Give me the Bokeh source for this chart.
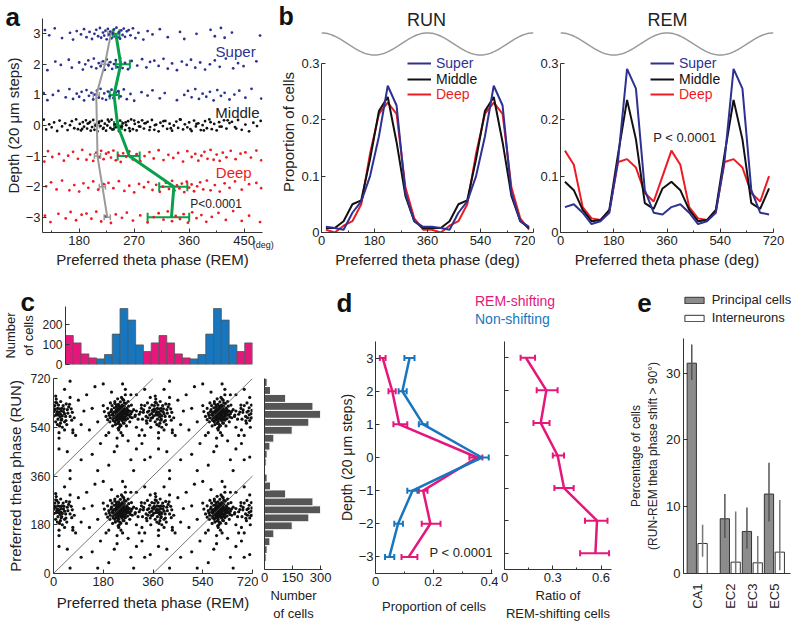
import numpy as np
from bokeh.plotting import figure
from bokeh.layouts import row, column
from bokeh.models import (Range1d, Label, Legend, LegendItem, Whisker, TeeHead,
                          ColumnDataSource, FixedTicker, Slope)
from bokeh.embed import file_html
from bokeh.resources import INLINE

FONT = "Liberation Sans"
AX = "#333333"
BLUE = "#2e3192"
RED = "#ed1c24"
BLACK = "#111111"
GREEN = "#0aa04b"
GRAYL = "#9a9a9a"
MAG = "#e5177b"
CYAN = "#1776bd"
BARGRAY = "#8c8c8c"

# ---------------- Panel a data ----------------
depths = [3, 2, 1, 0, -1, -2, -3]
depth_labels = ["3", "2", "1", "0", "−1", "−2", "−3"]
run_mean = [232, 222, 208, 209, 210, 218, 226]
run_lo = [227, 216, 203, 205, 205, 213, 221]
run_hi = [237, 228, 213, 213, 215, 223, 231]
rem_mean = [240, 248, 237, 243, 262, 335, 331]
rem_lo = [235, 240, 230, 237, 243, 311, 292]
rem_hi = [246, 263, 245, 250, 279, 357, 360]

a_p3 = [124, 131, 140, 152, 165, 170, 176, 183, 188, 192, 197, 201, 205, 208, 211, 214, 216, 219,
        221, 223, 225, 227, 229, 231, 233, 235, 237, 239, 241, 243, 245, 247, 249, 251, 253, 255,
        258, 261, 264, 268, 272, 277, 285, 292, 300, 312, 325, 345, 352, 372, 395, 402, 412, 418,
        430, 476]
a_p2 = [128, 141, 150, 163, 168, 180, 186, 190, 195, 200, 204, 208, 212, 215, 219, 222, 225, 228,
        231, 234, 237, 240, 243, 247, 251, 255, 260, 266, 275, 283, 290, 296, 303, 310, 318, 325,
        332, 340, 348, 356, 363, 370, 378, 386, 394, 402, 410, 420, 432, 440, 449, 470]
a_p1 = [122, 128, 137, 146, 158, 164, 170, 176, 180, 184, 188, 192, 196, 200, 203, 206, 209, 212,
        215, 218, 221, 224, 227, 230, 233, 236, 240, 244, 248, 253, 258, 264, 270, 282, 292, 300,
        312, 320, 340, 352, 358, 364, 370, 376, 382, 388, 394, 400, 406, 412, 418, 426, 434, 442,
        452, 462, 478]
a_0 = [122, 126, 131, 135, 139, 144, 148, 152, 157, 161, 165, 168, 172, 175, 178, 181, 183, 186,
       188, 191, 193, 196, 198, 201, 203, 205, 208, 210, 212, 215, 217, 219, 222, 224, 226, 229,
       231, 233, 236, 238, 240, 243, 245, 247, 250, 252, 255, 257, 260, 262, 265, 268, 271, 274,
       277, 280, 283, 286, 289, 292, 296, 299, 303, 306, 310, 313, 317, 321, 324, 328, 332, 335,
       339, 342, 346, 350, 353, 357, 360, 364, 368, 371, 375, 379, 382, 386, 389, 393, 397, 401,
       405, 409, 413, 417, 421, 426, 430, 435, 440, 446, 452, 458, 465, 471, 477, 185, 194, 199,
       207, 213, 220, 227, 234, 241, 248, 256, 263, 270, 278, 287, 295, 304, 318, 330, 345, 362,
       372, 384, 395, 410, 423, 437]
a_m1 = [123, 129, 136, 147, 155, 162, 170, 178, 185, 192, 198, 203, 208, 212, 216, 220, 224, 228,
        232, 236, 240, 244, 248, 252, 257, 262, 268, 274, 280, 287, 295, 302, 310, 318, 326, 334,
        342, 350, 357, 364, 370, 375, 380, 385, 390, 395, 400, 405, 410, 415, 421, 428, 436, 444,
        452, 461, 470, 478]
a_m2 = [126, 134, 143, 152, 164, 172, 180, 187, 195, 203, 211, 220, 228, 236, 245, 254, 262, 270,
        278, 286, 293, 300, 306, 312, 317, 322, 327, 332, 336, 340, 344, 348, 352, 356, 360, 364,
        368, 373, 378, 383, 389, 395, 402, 410, 418, 426, 435, 446, 458, 470, 478]
a_m3 = [124, 133, 146, 158, 166, 175, 184, 192, 200, 208, 216, 224, 232, 240, 250, 258, 268, 280,
        292, 302, 310, 318, 325, 332, 338, 345, 351, 358, 365, 372, 380, 388, 397, 408, 420, 432,
        446, 458, 476]
a_jitter = [0.12, -0.05, 0.18, -0.14, 0.03, -0.19, 0.09, -0.02, 0.15, -0.11, 0.06, -0.17, 0.0,
            0.13, -0.08, 0.19, -0.13, 0.04, -0.06, 0.10, -0.18, 0.16, -0.03, 0.07, -0.15, 0.01,
            0.14, -0.09, 0.20, -0.12, 0.05, -0.16, 0.11, -0.04, 0.17, -0.10, 0.08]

# ---------------- Panel b data ----------------
phase_bins = [15, 45, 75, 105, 135, 165, 195, 225, 255, 285, 315, 345,
              375, 405, 435, 465, 495, 525, 555, 585, 615, 645, 675, 705]
run_super = [0.010, 0.008, 0.005, 0.035, 0.055, 0.100, 0.170, 0.260, 0.225, 0.070, 0.020, 0.010]
run_middle = [0.008, 0.008, 0.020, 0.050, 0.057, 0.130, 0.215, 0.240, 0.160, 0.065, 0.020, 0.008]
run_deep = [0.005, 0.000, 0.012, 0.020, 0.050, 0.140, 0.210, 0.230, 0.210, 0.080, 0.025, 0.005]
rem_super = [0.045, 0.050, 0.035, 0.015, 0.020, 0.035, 0.130, 0.290, 0.255, 0.075, 0.035, 0.032]
rem_middle = [0.090, 0.075, 0.040, 0.020, 0.022, 0.040, 0.140, 0.235, 0.165, 0.052, 0.042, 0.078]
rem_deep = [0.145, 0.120, 0.045, 0.025, 0.022, 0.038, 0.125, 0.130, 0.115, 0.070, 0.055, 0.100]

# ---------------- Panel c data ----------------
top_counts = [145, 108, 53, 33, 28, 50, 152, 280, 222, 98, 65, 108]
top_group = ["REM-shifting", "REM-shifting", "REM-shifting", "REM-shifting",
             "Non-shifting", "Non-shifting", "Non-shifting", "Non-shifting",
             "Non-shifting", "Non-shifting", "REM-shifting", "REM-shifting"]
side_counts = [5, 9, 14, 29, 50, 148, 237, 300, 259, 113, 32, 14]
c_rem = [240, 232, 250, 225, 258, 245, 220, 262, 236, 248, 215, 270, 228, 255, 242, 210, 265, 238,
         222, 252, 230, 246, 260, 218, 235, 275, 205, 248, 226, 256, 240, 212, 268, 234, 244, 200,
         280, 230, 262, 222, 250, 238, 285, 196, 254, 216, 272, 242, 228, 258, 190, 290, 236, 246,
         206, 276, 224, 264, 232, 252, 184, 296, 244, 214, 270, 204, 282, 236, 248, 226, 230, 260,
         200, 280, 250,
         238, 244, 233, 250, 227, 241, 256, 236, 248, 230, 262, 218, 246, 234, 254, 224, 240, 258,
         212, 268, 236, 244, 228, 252, 220, 264, 242, 208, 274, 232, 248, 226, 238, 260, 214, 270,
         244, 222, 256, 202, 284, 234, 250, 196, 278,
         10, 20, 358, 30, 345, 15, 40, 335, 25, 5, 350, 50, 325, 18, 35, 355, 8, 60, 318, 28, 342,
         12, 45, 330, 2, 22, 338, 55, 310, 32, 48, 348, 16, 68, 300, 26, 352, 38, 6, 322, 75, 295,
         58, 340, 14, 20, 350, 40, 330, 8, 60, 300, 70,
         12, 24, 4, 36, 348, 18, 44, 340, 28, 8, 354, 52, 326, 22, 32, 358, 14, 64, 314, 26, 336,
         46, 2, 318, 40, 356, 30, 66, 306, 10,
         100, 150, 300, 60, 200, 330, 120, 80, 280, 170, 20, 250, 310, 90, 130, 210, 40, 350, 180,
         110, 270, 160, 300, 70, 230, 320, 140, 190, 50, 260,
         140, 290, 20, 330, 180, 60, 220, 100, 320, 160]
c_run = [225, 218, 232, 240, 210, 250, 215, 238, 200, 262, 230, 225, 255, 195, 212, 245, 250, 238,
         200, 220, 228, 244, 228, 222, 265, 240, 215, 205, 235, 258, 190, 260, 212, 248, 230, 232,
         230, 210, 268, 275, 240, 180, 215, 250, 280, 205, 258, 220, 245, 242, 220, 245, 170, 290,
         270, 200, 190, 185, 285, 210, 238, 225, 160, 185, 275, 200, 262, 232, 252, 222, 140, 300,
         160, 300, 150,
         228, 236, 222, 226, 230, 244, 234, 214, 218, 238, 222, 236, 256, 206, 248, 218, 252, 216,
         226, 244, 242, 210, 262, 196, 252, 232, 274, 238, 226, 194, 234, 206, 258, 206, 212, 236,
         186, 268, 270, 224, 238, 176, 284, 208, 218,
         225, 235, 215, 210, 240, 250, 230, 220, 195, 260, 205, 245, 235, 225, 260, 230, 200, 220,
         250, 240, 215, 270, 205, 260, 238, 185, 195, 255, 228, 222, 190, 252, 210, 235, 240, 275,
         180, 248, 245, 210, 215, 220, 265, 270, 238, 160, 290, 170, 150, 295, 290, 180, 160,
         232, 218, 248, 238, 226, 262, 220, 236, 206, 272, 214, 232, 244, 248, 180, 242, 190, 248,
         236, 228, 204, 266, 222, 262, 200, 262, 250, 206, 210, 284,
         60, 330, 100, 20, 40, 320, 300, 150, 60, 120, 100, 340, 150, 280, 170, 310, 320, 70, 260,
         240, 130, 200, 300, 170, 110, 170, 250, 150, 90, 320,
         80, 20, 140, 60, 340, 350, 90, 190, 120, 20]

# ---------------- Panel d data ----------------
shift_prop = [0.025, 0.058, 0.082, 0.352, 0.165, 0.190, 0.115]
shift_lo = [0.015, 0.045, 0.062, 0.325, 0.150, 0.160, 0.090]
shift_hi = [0.035, 0.070, 0.110, 0.370, 0.180, 0.225, 0.145]
non_prop = [0.118, 0.093, 0.165, 0.368, 0.128, 0.078, 0.048]
non_lo = [0.100, 0.080, 0.150, 0.355, 0.110, 0.065, 0.033]
non_hi = [0.135, 0.108, 0.180, 0.392, 0.145, 0.095, 0.065]
ratio = [0.133, 0.260, 0.225, 0.330, 0.370, 0.575, 0.565]
ratio_lo = [0.100, 0.200, 0.180, 0.300, 0.310, 0.500, 0.470]
ratio_hi = [0.190, 0.330, 0.280, 0.370, 0.430, 0.640, 0.650]

# ---------------- Panel e data ----------------
regions = ["CA1", "EC2", "EC3", "EC5"]
principal = [31.5, 8.2, 6.3, 11.9]
principal_lo = [29.0, 5.3, 3.7, 7.8]
principal_hi = [34.3, 11.9, 9.9, 16.6]
intern = [4.5, 1.7, 1.6, 3.2]
intern_lo = [2.5, 0.0, 0.0, 0.5]
intern_hi = [7.3, 9.3, 5.6, 11.0]


def style(ax, tick_fs="13px", lab_fs="15px"):
    ax.axis_line_color = AX
    ax.major_tick_line_color = AX
    ax.minor_tick_line_color = AX
    ax.major_tick_in = 4
    ax.major_tick_out = 0
    ax.minor_tick_in = 2
    ax.minor_tick_out = 0
    ax.major_label_text_font = FONT
    ax.major_label_text_font_size = tick_fs
    ax.major_label_text_color = "#222222"
    ax.axis_label_text_font = FONT
    ax.axis_label_text_font_size = lab_fs
    ax.axis_label_text_font_style = "normal"
    ax.axis_label_text_color = "#222222"
    ax.major_label_standoff = 3
    ax.axis_label_standoff = 3


def mk(w, h, l, r, t, b, xr, yr, axes=True):
    kw = {} if axes else dict(x_axis_type=None, y_axis_type=None)
    p = figure(width=w, height=h, x_range=Range1d(*xr), y_range=Range1d(*yr),
               output_backend="svg", toolbar_location=None, frame_align=False,
               min_border_left=l, min_border_right=r, min_border_top=t, min_border_bottom=b, **kw)
    p.outline_line_color = None
    p.background_fill_color = "white"
    p.border_fill_color = "white"
    if axes:
        p.xgrid.visible = False
        p.ygrid.visible = False
        for ax in list(p.xaxis) + list(p.yaxis):
            style(ax)
    return p


def header(w, h, L):
    # axis-free strip: its frame starts L px in, and data units equal canvas pixels
    return mk(w, h, L, 0, 0, 0, (L, w), (0, h), axes=False)


def lab(p, x, y, text, size="15px", color="#222222", align="center", bold=False,
        place="center"):
    lbl = Label(x=x, y=y, text=text, text_font=FONT,
                text_font_size=size, text_color=color, text_align=align,
                text_baseline="middle", text_font_style="bold" if bold else "normal")
    p.add_layout(lbl, place)


def letter(p, x, y, text, place="left", size="26px"):
    lab(p, x, y, text, size=size, color="#111111", align="left", bold=True, place=place)


def leg(p, items, x, y, color="#222222", gw=24, gh=14, standoff=5, fs="14px", spacing=0):
    p.add_layout(Legend(items=[LegendItem(label=t, renderers=[r]) for t, r in items],
                        location=(x, y), orientation="vertical", border_line_color=None,
                        background_fill_alpha=0, padding=0, margin=0, spacing=spacing,
                        glyph_width=gw, glyph_height=gh, label_height=14,
                        label_standoff=standoff, label_text_font=FONT,
                        label_text_font_size=fs, label_text_color=color))


# ================= Panel a =================
fa = mk(277, 270, 42, 15, 18, 38, (120, 480), (-3.5, 3.5))
fa.xaxis.ticker = FixedTicker(ticks=[180, 270, 360, 450], minor_ticks=[135, 225, 315, 405])
fa.yaxis.ticker = FixedTicker(ticks=depths)
fa.yaxis.major_label_overrides = {d: s for d, s in zip(depths, depth_labels)}
fa.xaxis.axis_label = "Preferred theta phase (REM)"
fa.yaxis.axis_label = "Depth (20 μm steps)"
fa.yaxis.major_label_standoff = 2
fa.yaxis.axis_label_standoff = 1

a_rows = [(3, a_p3, BLUE), (2, a_p2, BLUE), (1, a_p1, BLUE), (0, a_0, BLACK),
          (-1, a_m1, RED), (-2, a_m2, RED), (-3, a_m3, RED)]
for k, (d, xs, col) in enumerate(a_rows):
    ys = [d + a_jitter[(i + 5 * k) % len(a_jitter)] for i in range(len(xs))]
    fa.scatter(xs, ys, size=2.8, fill_color=col, line_color=None)

src_run = ColumnDataSource(dict(depth=depths, m=run_mean, lo=run_lo, hi=run_hi))
fa.line("m", "depth", source=src_run, line_color=GRAYL, line_width=2)
fa.add_layout(Whisker(source=src_run, base="depth", lower="lo", upper="hi", dimension="width",
                      line_color=GRAYL, line_width=1.5,
                      upper_head=TeeHead(size=6, line_color=GRAYL, line_width=1.5),
                      lower_head=TeeHead(size=6, line_color=GRAYL, line_width=1.5)))
src_rem = ColumnDataSource(dict(depth=depths, m=rem_mean, lo=rem_lo, hi=rem_hi))
fa.line("m", "depth", source=src_rem, line_color=GREEN, line_width=3)
fa.add_layout(Whisker(source=src_rem, base="depth", lower="lo", upper="hi", dimension="width",
                      line_color=GREEN, line_width=2,
                      upper_head=TeeHead(size=9, line_color=GREEN, line_width=2),
                      lower_head=TeeHead(size=9, line_color=GREEN, line_width=2)))
lab(fa, 436, 2.42, "Super", color=BLUE)
lab(fa, 439, 0.43, "Middle", color="#222222")
lab(fa, 433, -1.54, "Deep", color=RED)
lab(fa, 404, -2.58, "P<0.0001", size="12px")
letter(fa, 59.5, 3.56, "a", place="right")
lab(fa, 464, -3.925, "(deg)", size="9px", align="left", place="above")

# ================= Panel b =================
theta_x = np.linspace(0, 720, 181)
theta_y = 0.334 + 0.0196 * np.cos(np.radians(theta_x))


def panel_b(w, l, r, sup, mid, deep, leg_x, ylabel):
    p = mk(w, 239, l, r, 0, 38, (0, 720), (0, 0.3561))
    p.xaxis.ticker = FixedTicker(ticks=[0, 180, 360, 540, 720], minor_ticks=[90, 270, 450, 630])
    p.yaxis.ticker = FixedTicker(ticks=[0, 0.1, 0.2, 0.3])
    p.yaxis.major_label_overrides = {0: "0", 0.1: "0.1", 0.2: "0.2", 0.3: "0.3"}
    p.yaxis.bounds = (0, 0.3)
    p.yaxis.major_label_standoff = 2
    p.yaxis.axis_label_standoff = 1
    p.xaxis.axis_label = "Preferred theta phase (deg)"
    if ylabel:
        p.yaxis.axis_label = ylabel
    p.line(theta_x, theta_y, line_color=GRAYL, line_width=1.5)
    rd = p.line(phase_bins, deep + deep, line_color=RED, line_width=2)
    rm = p.line(phase_bins, mid + mid, line_color=BLACK, line_width=2)
    rs = p.line(phase_bins, sup + sup, line_color=BLUE, line_width=2)
    leg(p, [("Super", rs)], leg_x, 161, color=BLUE)
    leg(p, [("Middle", rm)], leg_x, 145.3, color=BLACK)
    leg(p, [("Deep", rd)], leg_x, 129.6, color=RED)
    return p


fbh = header(258, 31, 100)
letter(fbh, 1, 15.5, "b", size="25px")
lab(fbh, 149, 11.5, "RUN", size="18px", place="left")
fbr = panel_b(258, 43, 2, run_super, run_middle, run_deep, 86, "Proportion of cells")

fbmh = header(265, 31, 100)
lab(fbmh, 132, 11.5, "REM", size="18px", place="left")
fbm = panel_b(265, 25, 27, rem_super, rem_middle, rem_deep, 90, None)
lab(fbm, 420, 0.169, "P < 0.0001", size="13px")

# ================= Panel c =================
c_colors = [MAG if g == "REM-shifting" else CYAN for g in top_group]
fct = mk(258, 102, 53, 6, 36, 8, (0, 720), (0, 290))
fct.xaxis.visible = False
fct.yaxis.ticker = FixedTicker(ticks=[0, 100, 200])
fct.yaxis.major_label_text_font_size = "12px"
fct.yaxis.axis_label = "Number\nof cells"
fct.yaxis.axis_label_text_font_size = "13px"
fct.vbar(x=phase_bins, top=top_counts + top_counts, width=30, fill_color=c_colors + c_colors,
         line_color="#555555", line_width=0.8)
letter(fct, -173.7, 311.5, "c", place="above")

fcs = mk(258, 251, 53, 6, 6, 50, (0, 720), (0, 720))
fcs.xaxis.ticker = FixedTicker(ticks=[0, 180, 360, 540, 720])
fcs.yaxis.ticker = FixedTicker(ticks=[0, 180, 360, 540, 720])
fcs.yaxis.major_label_text_font_size = "12px"
fcs.xaxis.axis_label = "Preferred theta phase (REM)"
fcs.yaxis.axis_label = "Preferred theta phase (RUN)"
fcs.xaxis.axis_label_standoff = 5
for icpt in (-360, 0, 360):
    fcs.add_layout(Slope(gradient=1, y_intercept=icpt, line_color="#555555", line_width=0.8))
sx, sy = [], []
for dx in (0, 360):
    for dy in (0, 360):
        sx += [v + dx for v in c_rem]
        sy += [v + dy for v in c_run]
fcs.scatter(sx, sy, size=3.2, fill_color="#111111", line_color=None)

fcside = mk(77, 353, 6, 13, 108, 50, (0, 310), (0, 720))
fcside.yaxis.ticker = FixedTicker(ticks=[])
fcside.xaxis.ticker = FixedTicker(ticks=[0, 150, 300])
fcside.xaxis.axis_label = "Number\nof cells"
fcside.xaxis.axis_label_text_font_size = "13px"
fcside.hbar(y=phase_bins, right=side_counts + side_counts, left=0, height=30,
            fill_color="#555555", line_color="white", line_width=1)

# ================= Panel d =================
fdh = header(277, 71, 60)
r_sh = fdh.line(x=[], y=[], line_color=MAG, line_width=2.5)
r_ns = fdh.line(x=[], y=[], line_color=CYAN, line_width=2.5)
leg(fdh, [("REM-shifting", r_sh)], 45, 32, color=MAG, gw=28, standoff=7)
leg(fdh, [("Non-shifting", r_ns)], 45, 14, color=CYAN, gw=28, standoff=7)
letter(fdh, 1, 38.1, "d")

fdl = mk(163, 282, 38, 6, 0, 50, (0, 0.405), (-3.5, 3.5))
fdl.xaxis.ticker = FixedTicker(ticks=[0, 0.2, 0.4], minor_ticks=[0.1, 0.3])
fdl.xaxis.major_label_overrides = {0: "0", 0.2: "0.2", 0.4: "0.4"}
fdl.yaxis.ticker = FixedTicker(ticks=depths)
fdl.yaxis.major_label_overrides = {d: s for d, s in zip(depths, depth_labels)}
fdl.yaxis.axis_label = "Depth (20 μm steps)"
fdl.xaxis.axis_label = "Proportion of cells"
fdl.xaxis.axis_label_text_font_size = "13px"
fdl.yaxis.axis_label_text_font_size = "14px"
fdl.yaxis.major_label_standoff = 2
fdl.yaxis.axis_label_standoff = 1
fdl.xaxis.axis_label_standoff = 10

src_sh = ColumnDataSource(dict(depth=depths, m=shift_prop, lo=shift_lo, hi=shift_hi))
src_ns = ColumnDataSource(dict(depth=depths, m=non_prop, lo=non_lo, hi=non_hi))
for src, col in ((src_sh, MAG), (src_ns, CYAN)):
    fdl.line("m", "depth", source=src, line_color=col, line_width=2.5)
    fdl.add_layout(Whisker(source=src, base="depth", lower="lo", upper="hi", dimension="width",
                           line_color=col, line_width=2,
                           upper_head=TeeHead(size=6, line_color=col, line_width=2),
                           lower_head=TeeHead(size=6, line_color=col, line_width=2)))
lab(fdl, 0.296, -2.86, "P < 0.0001", size="13px")

fdr = mk(114, 282, 6, 1, 0, 50, (0, 0.665), (-3.5, 3.5))
fdr.xaxis.ticker = FixedTicker(ticks=[0, 0.3, 0.6], minor_ticks=[0.15, 0.45])
fdr.xaxis.major_label_overrides = {0: "0", 0.3: "0.3", 0.6: "0.6"}
fdr.yaxis.ticker = FixedTicker(ticks=depths)
fdr.yaxis.major_label_overrides = {d: "" for d in depths}
fdr.xaxis.axis_label = "Ratio of\nREM-shifting cells"
fdr.xaxis.axis_label_text_font_size = "13px"
src_ra = ColumnDataSource(dict(depth=depths, m=ratio, lo=ratio_lo, hi=ratio_hi))
fdr.line("m", "depth", source=src_ra, line_color=MAG, line_width=2.5)
fdr.add_layout(Whisker(source=src_ra, base="depth", lower="lo", upper="hi", dimension="width",
                       line_color=MAG, line_width=2,
                       upper_head=TeeHead(size=6, line_color=MAG, line_width=2),
                       lower_head=TeeHead(size=6, line_color=MAG, line_width=2)))

# ================= Panel e =================
feh = header(186, 68, 40)
# legend keys: proxies kept outside the visible strip
rp_leg = feh.vbar(x=[-1000], top=[0], width=1, fill_color=BARGRAY, line_color="#333333",
                  line_width=1)
ri_leg = feh.vbar(x=[-1000], top=[0], width=1, fill_color="white", line_color="#333333",
                  line_width=1)
leg(feh, [("Principal cells", rp_leg), ("Interneurons", ri_leg)], 29.7, 12.7, gw=24, gh=8,
    standoff=6, spacing=3, fs="13px")
letter(feh, 24.7, 35.8, "e")

group_pos = [0, 1.5, 2.5, 3.5]   # layout positions of the region groups
off, bw = 0.245, 0.42
fe = mk(186, 285, 71, 8, 0, 50, (-0.62, 4.23), (0, 35.2))
src_p = ColumnDataSource(dict(x=[g - off for g in group_pos], top=principal,
                              lo=principal_lo, hi=principal_hi))
src_i = ColumnDataSource(dict(x=[g + off for g in group_pos], top=intern,
                              lo=intern_lo, hi=intern_hi))
fe.vbar(x="x", top="top", width=bw, source=src_p, fill_color=BARGRAY, line_color="#333333",
        line_width=1)
fe.vbar(x="x", top="top", width=bw, source=src_i, fill_color="white", line_color="#333333",
        line_width=1)
fe.segment(x0="x", y0="lo", x1="x", y1="hi", source=src_p, line_color="#555555", line_width=1.5)
fe.segment(x0="x", y0="lo", x1="x", y1="hi", source=src_i, line_color="#777777", line_width=1.5)
fe.xaxis.ticker = FixedTicker(ticks=group_pos)
fe.xaxis.major_label_overrides = {g: r for g, r in zip(group_pos, regions)}
fe.xaxis.major_label_orientation = np.pi / 2
fe.xaxis.major_tick_in = 0
fe.xaxis.major_label_standoff = 10
fe.yaxis.ticker = FixedTicker(ticks=[0, 10, 20, 30])
fe.yaxis.axis_label = "Percentage of cells\n(RUN-REM theta phase shift > 90°)"
fe.yaxis.axis_label_text_font_size = "12px"

top = row(fa, column(fbh, fbr), column(fbmh, fbm))
bottom = row(column(fct, fcs), fcside, column(fdh, row(fdl, fdr)), column(feh, fe))
layout = column(top, bottom)

open("out.html", "w").write(file_html(layout, INLINE, title="Theta phase"))
